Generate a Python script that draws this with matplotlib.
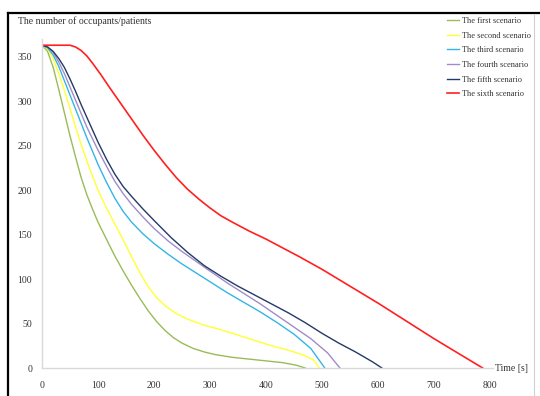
import matplotlib
matplotlib.use("Agg")
import matplotlib.pyplot as plt
from matplotlib.lines import Line2D

plt.rcParams["font.family"] = ["Liberation Serif", "DejaVu Serif"]

labels = ["The first scenario", "The second scenario", "The third scenario",
          "The fourth scenario", "The fifth scenario", "The sixth scenario"]
colors = ["#9bbb59", "#ffff33", "#33b5e8", "#a08cc8", "#243a66", "#ff2020"]

t1 = [0, 10, 20, 30, 40, 50, 60, 70, 80, 90, 100, 115, 130, 145, 160, 175, 190, 205,
      220, 235, 250, 270, 290, 310, 340, 370, 400, 430, 455, 470]
v1 = [363, 356, 338, 313, 287, 261, 237, 214, 195, 179, 164, 145, 126, 109, 93, 78, 64, 52,
      42, 34, 28, 22, 18, 15, 12, 10, 8, 6, 3, 0]

t2 = [0, 10, 20, 30, 40, 50, 60, 70, 80, 90, 100, 115, 130, 145, 160, 175, 190, 205,
      220, 240, 260, 290, 320, 350, 380, 410, 440, 465, 485, 495]
v2 = [363, 359, 348, 331, 312, 292, 271, 251, 233, 216, 200, 180, 162, 144, 125, 107, 91, 79,
      70, 61, 55, 48, 43, 37, 31, 25, 20, 15, 9, 0]

t3 = [0, 10, 20, 30, 40, 50, 60, 70, 80, 90, 100, 115, 130, 145, 160, 180, 200, 225,
      250, 275, 300, 330, 360, 390, 420, 450, 480, 505]
v3 = [363, 360, 352, 339, 323, 307, 291, 275, 259, 244, 229, 209, 191, 176, 164, 151, 140, 128,
      117, 107, 97, 85, 74, 63, 51, 38, 22, 0]

t4 = [0, 10, 20, 30, 40, 50, 60, 70, 80, 90, 100, 115, 130, 145, 160, 180, 200, 225,
      250, 275, 300, 330, 360, 390, 420, 450, 480, 510, 532]
v4 = [363, 361, 355, 344, 331, 316, 301, 286, 271, 258, 245, 227, 210, 196, 184, 170, 157, 143,
      131, 120, 109, 96, 84, 72, 59, 46, 33, 17, 0]

t5 = [0, 10, 20, 30, 40, 50, 60, 70, 80, 90, 100, 115, 130, 145, 160, 180, 200, 230,
      260, 290, 320, 350, 380, 410, 440, 470, 500, 530, 560, 590, 607]
v5 = [363, 361, 356, 348, 338, 325, 311, 296, 282, 268, 254, 235, 218, 204, 193, 179, 166, 147,
      130, 115, 103, 92, 82, 72, 62, 51, 39, 28, 18, 7, 0]

t6 = [0, 20, 40, 50, 60, 70, 80, 90, 105, 120, 140, 160, 180, 200, 220, 240, 260, 280,
      300, 320, 340, 370, 400, 430, 460, 500, 550, 600, 650, 700, 750, 787]
v6 = [363, 363, 363, 363, 361, 357, 351, 343, 330, 316, 298, 280, 262, 245, 229, 214, 201, 190,
      180, 171, 164, 154, 145, 135, 125, 111, 92, 73, 53, 33, 14, 0]

series = [(t1, v1), (t2, v2), (t3, v3), (t4, v4), (t5, v5), (t6, v6)]
xticks = [0, 100, 200, 300, 400, 500, 600, 700, 800]
yticks = [0, 50, 100, 150, 200, 250, 300, 350]

fig = plt.figure(figsize=(5.4, 3.96), dpi=100)
ax = fig.add_axes([0.0778, 0.0707, 0.8296, 0.8308])

for (t, v), c, lab in zip(series, colors, labels):
    ax.plot(t, v, color=c, lw=1.0 if c != "#ff2020" else 1.2, label=lab)

ax.set_xlim(0, 800)
ax.set_ylim(0, 370)
ax.set_xticks(xticks)
ax.set_yticks(yticks)
ax.tick_params(length=0, labelsize=7, colors="#333333")
ax.tick_params(axis="x", pad=9)
ax.tick_params(axis="y", pad=7)
for s in ["top", "right"]:
    ax.spines[s].set_visible(False)
for s in ["left", "bottom"]:
    ax.spines[s].set_color("#d9d9d9")
    ax.spines[s].set_linewidth(1.0)
ax.spines["bottom"].set_bounds(0, 806)
ax.spines["bottom"].set_clip_on(False)

fig.text(18 / 540, 1 - 21 / 396, "The number of occupants/patients", fontsize=7,
         va="center", ha="left", color="#333333")
ax.text(1.012, 0, "Time [s]", transform=ax.transAxes, fontsize=7, va="center",
        ha="left", color="#333333")

ax.legend(loc="upper left", bbox_to_anchor=(447 / 540, 1 - 17 / 396),
          bbox_transform=fig.transFigure, frameon=False, fontsize=6,
          handlelength=1.5, handletextpad=0.25, labelspacing=0.8, borderpad=0,
          borderaxespad=0, labelcolor="#333333")

# border of the original figure
fig.add_artist(Line2D([8 / 540, 8 / 540], [0, 1 - 13 / 396], color="black", lw=1.6,
                      transform=fig.transFigure))
fig.add_artist(Line2D([8 / 540, 1], [1 - 13 / 396, 1 - 13 / 396], color="black", lw=1.6,
                      transform=fig.transFigure))
fig.add_artist(Line2D([534 / 540, 534 / 540], [0, 1 - 15 / 396], color="#d0d0d0", lw=0.8,
                      transform=fig.transFigure))

fig.savefig("out.png", dpi=100)
